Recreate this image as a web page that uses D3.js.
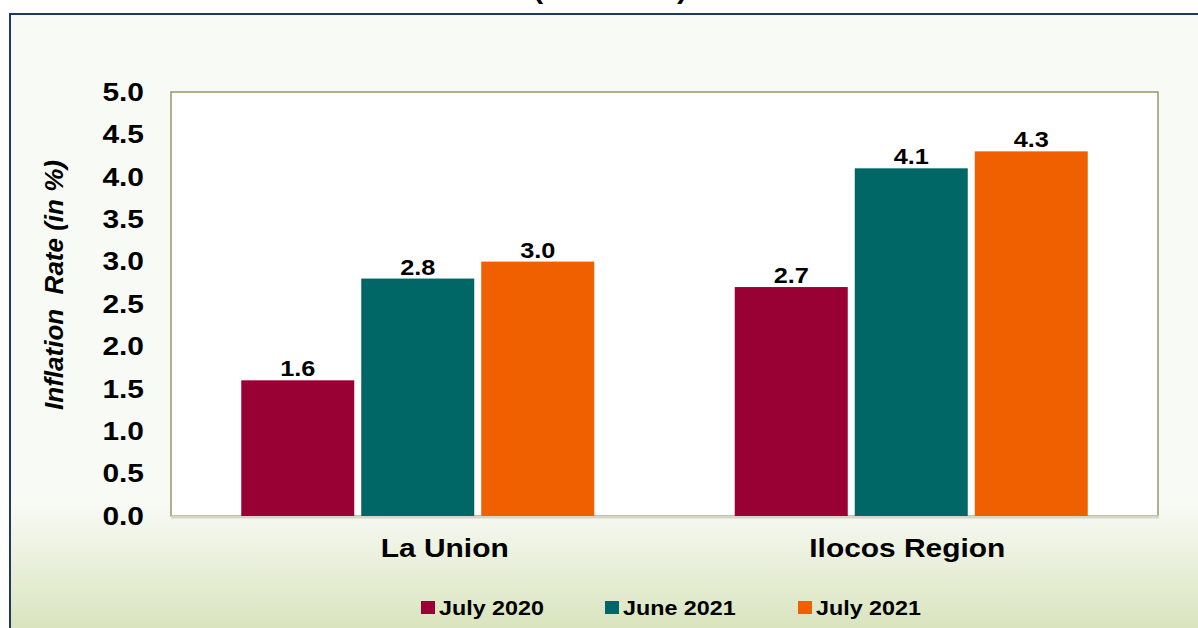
<!DOCTYPE html>
<html>
<head>
<meta charset="utf-8">
<script src="https://cdn.jsdelivr.net/npm/d3@7"></script>
<style>
  body { margin: 0; background: #ffffff; }
  svg { display: block; font-family: "Liberation Sans", Arial, sans-serif; }
</style>
</head>
<body>
<svg id="chart"></svg>
<script>
// chart data
var categories = ["La Union", "Ilocos Region"]
var seriesNames = ["July 2020", "June 2021", "July 2021"]
var july2020 = [1.6, 2.7]
var june2021 = [2.8, 4.1]
var july2021 = [3.0, 4.3]
var yTicks = [0, 0.5, 1, 1.5, 2, 2.5, 3, 3.5, 4, 4.5, 5]
var colors = ["#990033", "#006666", "#f06000"]

var values = [july2020, june2021, july2021]
var rows = categories.map((c, i) => ({
  category: c,
  items: seriesNames.map((s, j) => ({series: s, value: values[j][i], color: colors[j]}))
}))

var W = 1198, H = 628
var SX = 1.15 // text in the reference is drawn a bit wide

var svg = d3.select("#chart")
  .attr("width", W)
  .attr("height", H)

// background frame with green gradient at the bottom
var defs = svg.append("defs")
var grad = defs.append("linearGradient")
  .attr("id", "bg")
  .attr("x1", 0).attr("y1", 0).attr("x2", 0).attr("y2", 1)
grad.append("stop").attr("offset", "0").attr("stop-color", "#f8faf5")
grad.append("stop").attr("offset", "0.78").attr("stop-color", "#f8faf5")
grad.append("stop").attr("offset", "1").attr("stop-color", "#d6e2b8")

svg.append("rect")
  .attr("x", 10).attr("y", 14)
  .attr("width", W + 20).attr("height", H)
  .attr("fill", "url(#bg)")
  .attr("stroke", "#1f3864")
  .attr("stroke-width", 2)

// title, cut off at the top of the picture (as in the reference)
svg.append("text")
  .attr("transform", `translate(610,-1) scale(${SX},1)`)
  .attr("text-anchor", "middle")
  .attr("font-size", 26)
  .attr("font-weight", "bold")
  .text("(2012=100)")

var plot = {left: 171, right: 1158, top: 92, bottom: 516}

var x0 = d3.scaleBand()
  .domain(categories)
  .range([plot.left, plot.right])
  .padding(0)

var groupWidth = 353
var x1 = d3.scaleBand()
  .domain(seriesNames)
  .range([0, groupWidth])
  .paddingInner(7 / 120)
  .paddingOuter(0)

var y = d3.scaleLinear()
  .domain([0, 5])
  .range([plot.bottom, plot.top])

// plot area
svg.append("rect")
  .attr("x", plot.left).attr("y", plot.top)
  .attr("width", plot.right - plot.left)
  .attr("height", plot.bottom - plot.top)
  .attr("fill", "#ffffff")
  .attr("stroke", "#9a9467")
  .attr("stroke-width", 1.5)

svg.append("line")
  .attr("x1", plot.left).attr("x2", plot.right + 1)
  .attr("y1", plot.bottom + 1).attr("y2", plot.bottom + 1)
  .attr("stroke", "#d6d5c8")
  .attr("stroke-width", 3)

// y axis
var yAxis = svg.append("g")
  .attr("transform", `translate(${plot.left},0)`)
  .call(d3.axisLeft(y).tickValues(yTicks).tickFormat(d3.format(".1f")).tickSize(0).tickPadding(27 / SX))
yAxis.select(".domain").remove()
yAxis.selectAll("text")
  .attr("transform", `scale(${SX},1)`)
  .attr("font-size", 26)
  .attr("font-weight", "bold")
  .attr("fill", "#000")
  .attr("font-family", "Liberation Sans, Arial, sans-serif")

svg.append("text")
  .attr("transform", "translate(63,285) rotate(-90)")
  .attr("text-anchor", "middle")
  .attr("font-size", 26)
  .attr("font-weight", "bold")
  .attr("font-style", "italic")
  .attr("xml:space", "preserve")
  .text("Inflation  Rate (in %)")

// bars
var groups = svg.selectAll("g.group")
  .data(rows)
  .enter()
  .append("g")
  .attr("class", "group")
  .attr("transform", d => `translate(${x0(d.category) + (x0.bandwidth() - groupWidth) / 2},0)`)

groups.selectAll("rect")
  .data(d => d.items)
  .enter()
  .append("rect")
  .attr("x", d => x1(d.series))
  .attr("width", x1.bandwidth())
  .attr("y", d => y(d.value))
  .attr("height", d => y(0) - y(d.value))
  .attr("fill", d => d.color)

groups.selectAll("text")
  .data(d => d.items)
  .enter()
  .append("text")
  .attr("transform", d => `translate(${x1(d.series) + x1.bandwidth() / 2},${y(d.value) - 4}) scale(${SX},1)`)
  .attr("text-anchor", "middle")
  .attr("font-size", 22)
  .attr("font-weight", "bold")
  .text(d => d3.format(".1f")(d.value))

// category labels
svg.selectAll("text.cat")
  .data(categories)
  .enter()
  .append("text")
  .attr("class", "cat")
  .attr("transform", (d, i) => `translate(${x0(d) + x0.bandwidth() / 2 + (i === 0 ? 27 : -4)},557) scale(${SX},1)`)
  .attr("text-anchor", "middle")
  .attr("font-size", 26)
  .attr("font-weight", "bold")
  .text(d => d)

// legend
var legendX = [421, 605, 798]
var legend = svg.selectAll("g.legend")
  .data(seriesNames)
  .enter()
  .append("g")
  .attr("class", "legend")
  .attr("transform", (d, i) => `translate(${legendX[i]},601)`)

legend.append("rect")
  .attr("width", 14).attr("height", 13)
  .attr("fill", (d, i) => colors[i])

legend.append("text")
  .attr("transform", `translate(18,14) scale(${SX - 0.04},1)`)
  .attr("font-size", 21)
  .attr("font-weight", "bold")
  .text(d => d)
</script>
</body>
</html>
